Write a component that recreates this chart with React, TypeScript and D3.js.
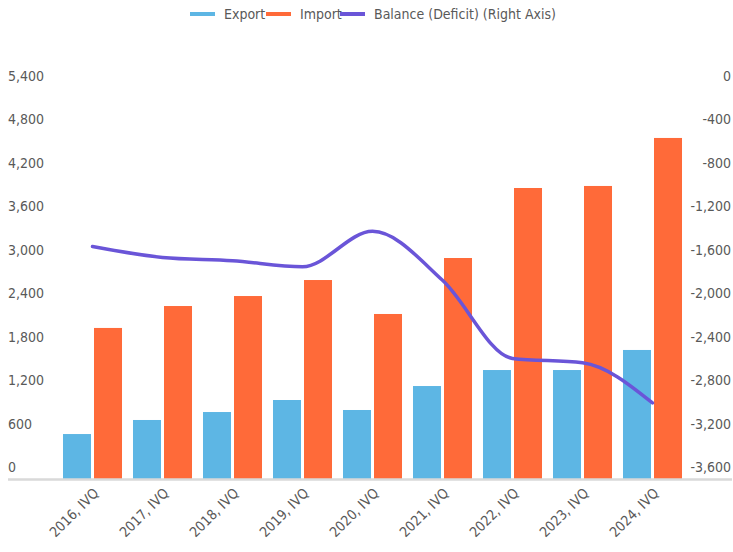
import React from 'react'
import * as d3 from 'd3'

const quarters = [
  '2016, IVQ',
  '2017, IVQ',
  '2018, IVQ',
  '2019, IVQ',
  '2020, IVQ',
  '2021, IVQ',
  '2022, IVQ',
  '2023, IVQ',
  '2024, IVQ',
]
const exportValues = [621, 815, 925, 1091, 953, 1284, 1505, 1505, 1782]
const importValues = [2086, 2389, 2527, 2748, 2279, 3052, 4019, 4047, 4710]
const balanceValues = [-1460, -1560, -1590, -1645, -1320, -1770, -2490, -2530, -2900]
const leftTicks = [0, 600, 1200, 1800, 2400, 3000, 3600, 4200, 4800, 5400]
const rightTicks = [0, -400, -800, -1200, -1600, -2000, -2400, -2800, -3200, -3600]

const width = 733
const height = 552
const plot = { left: 57.5, right: 687.5, top: 88, bottom: 479 }

const colors = {
  export: '#5DB6E4',
  import: '#FF6A39',
  balance: '#6A55D8',
  text: '#595959',
  axis: '#D9D9D9',
}

const fontFamily = '"DejaVu Sans Condensed", "Liberation Sans Narrow", "Roboto", sans-serif'
const fontSize = 14
// plain hyphen for negatives, like the original
const fmt = (v: number) => d3.format(',')(v).replace('\u2212', '-')
const labelOffset = 12

export default function App() {
  const x = d3.scaleBand().domain(quarters).range([plot.left, plot.right]).paddingInner(0.157).paddingOuter(0.0785)
  const xSeries = d3.scaleBand().domain(['export', 'import']).range([0, x.bandwidth()]).paddingInner(0.097)
  const yLeft = d3.scaleLinear().domain([0, 5400]).range([plot.bottom, plot.top])
  const yRight = d3.scaleLinear().domain([-3600, 0]).range([plot.bottom, plot.top])

  const line = d3
    .line<number>()
    .x((_, i) => (x(quarters[i]) as number) + x.bandwidth() / 2)
    .y((d) => yRight(d))
    .curve(d3.curveMonotoneX)

  const legend = [
    { label: 'Export', color: colors.export, x: 190 },
    { label: 'Import', color: colors.import, x: 266 },
    { label: 'Balance (Deficit) (Right Axis)', color: colors.balance, x: 340 },
  ]

  return (
    <svg width={width} height={height} style={{ position: 'absolute', left: 0, top: 0, fontFamily }}>
      <rect width={width} height={height} fill="#fff" />

      {/* legend */}
      {legend.map((d) => (
        <g key={d.label}>
          <line x1={d.x} x2={d.x + 25} y1={14} y2={14} stroke={d.color} strokeWidth={4} />
          <text x={d.x + 34} y={19} fontSize={fontSize} fill={colors.text}>
            {d.label}
          </text>
        </g>
      ))}

      {/* left axis labels */}
      {leftTicks.map((t) => (
        <text key={'l' + t} x={8} y={yLeft(t) - labelOffset + 5} fontSize={fontSize} fill={colors.text}>
          {fmt(t)}
        </text>
      ))}

      {/* right axis labels */}
      {rightTicks.map((t) => (
        <text key={'r' + t} x={731} y={yRight(t) - labelOffset + 5} fontSize={fontSize} fill={colors.text} textAnchor="end">
          {fmt(t)}
        </text>
      ))}

      {/* bars */}
      {quarters.map((q, i) => (
        <g key={q} transform={`translate(${x(q)},0)`}>
          <rect
            x={xSeries('export')}
            y={yLeft(exportValues[i])}
            width={xSeries.bandwidth()}
            height={yLeft(0) - yLeft(exportValues[i])}
            fill={colors.export}
          />
          <rect
            x={xSeries('import')}
            y={yLeft(importValues[i])}
            width={xSeries.bandwidth()}
            height={yLeft(0) - yLeft(importValues[i])}
            fill={colors.import}
          />
        </g>
      ))}

      {/* baseline */}
      <line x1={8} x2={732} y1={plot.bottom + 0.5} y2={plot.bottom + 0.5} stroke={colors.axis} strokeWidth={2.5} />

      {/* balance line */}
      <path d={line(balanceValues) || ''} fill="none" stroke={colors.balance} strokeWidth={3.5} strokeLinecap="round" />

      {/* x labels */}
      {quarters.map((q) => {
        const cx = (x(q) as number) + x.bandwidth() / 2 + 7
        const cy = 494
        return (
          <text
            key={'x' + q}
            x={cx}
            y={cy}
            fontSize={fontSize}
            fill={colors.text}
            textAnchor="end"
            transform={`rotate(-45 ${cx} ${cy})`}
          >
            {q}
          </text>
        )
      })}
    </svg>
  )
}
